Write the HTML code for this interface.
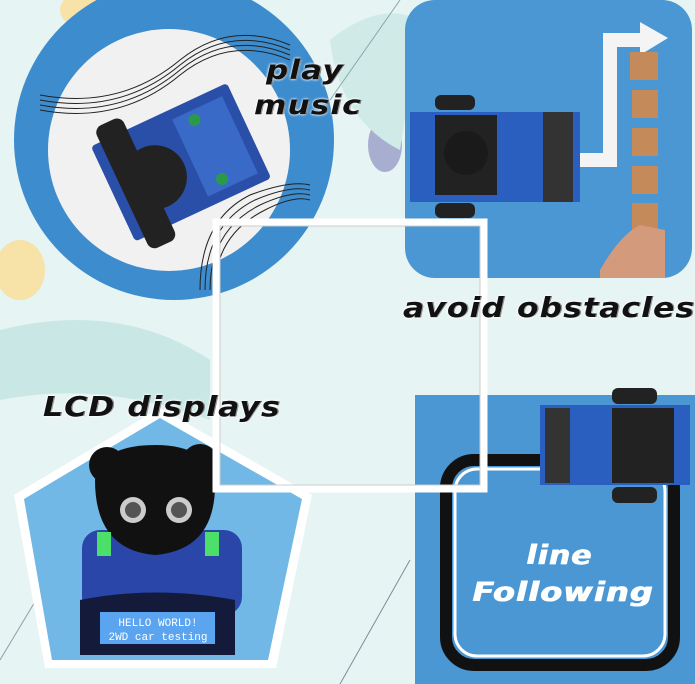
<!DOCTYPE html>
<html><head><style>
html,body{margin:0;padding:0}
body{width:695px;height:684px;overflow:hidden;position:relative;background:#e6f4f3;font-family:"DejaVu Sans","Liberation Sans",sans-serif}
.t{position:absolute;font-weight:bold;font-style:italic;color:#111;font-size:27px;letter-spacing:1px;text-shadow:0 0 2px #fff,0 0 3px #fff,1px 0 0 #111;white-space:nowrap;transform-origin:left top}
</style></head><body>
<svg width="695" height="684" style="position:absolute;left:0;top:0">
<ellipse cx="20" cy="270" rx="25" ry="30" fill="#f7e2a8"/>
<ellipse cx="90" cy="10" rx="30" ry="20" fill="#f7e2a8"/>
<ellipse cx="385" cy="145" rx="17" ry="27" fill="#a8aed0"/>
<path d="M0 330 Q120 300 210 360 L210 420 Q100 380 0 400Z" fill="#c9e8e5"/>
<path d="M330 40 Q380 0 420 20 L400 150 Q340 120 330 40Z" fill="#cfeae7"/>
<line x1="330" y1="100" x2="400" y2="0" stroke="#8aa" stroke-width="1"/>
<line x1="340" y1="684" x2="410" y2="560" stroke="#889" stroke-width="1"/>
<line x1="0" y1="660" x2="60" y2="560" stroke="#99a" stroke-width="1"/>
<circle cx="174" cy="140" r="160" fill="#3d8cce"/>
<circle cx="169" cy="150" r="121" fill="#f1f1f1"/>
<g fill="none" stroke="#222" stroke-width="1">
<path d="M40 95 Q120 110 180 60 Q230 20 290 45"/><path d="M40 100 Q120 115 180 65 Q230 25 290 50"/><path d="M40 105 Q120 120 180 70 Q230 30 290 55"/><path d="M40 110 Q120 125 180 75 Q230 35 290 60"/>
<path d="M200 290 Q200 220 250 195 Q290 180 310 185"/><path d="M205 290 Q205 225 255 200 Q290 185 310 190"/><path d="M210 290 Q210 230 260 205 Q292 190 310 195"/><path d="M215 290 Q215 235 265 210 Q294 195 310 200"/>
</g>
<g transform="rotate(-25 180 160)">
<rect x="105" y="110" width="150" height="105" rx="4" fill="#2a4fa8"/>
<rect x="115" y="95" width="30" height="135" rx="8" fill="#222"/>
<circle cx="150" cy="165" r="32" fill="#222"/>
<rect x="190" y="120" width="55" height="85" fill="#3a6ac8"/>
<circle cx="210" cy="130" r="6" fill="#2a9a4a"/><circle cx="210" cy="195" r="6" fill="#2a9a4a"/>
</g>
<rect x="405" y="0" width="287" height="278" rx="30" fill="#4a97d4"/>
<path d="M580 160 L610 160 L610 40 L645 40" fill="none" stroke="#f4f4f4" stroke-width="14"/>
<path d="M640 22 L668 38 L640 55Z" fill="#f4f4f4"/>
<rect x="435" y="95" width="40" height="15" rx="6" fill="#222"/><rect x="435" y="203" width="40" height="15" rx="6" fill="#222"/>
<rect x="410" y="112" width="170" height="90" fill="#2a5fbf"/>
<rect x="435" y="115" width="62" height="80" fill="#222"/>
<circle cx="466" cy="153" r="22" fill="#1a1a1a"/>
<rect x="543" y="112" width="30" height="90" fill="#333"/>
<g fill="#c48a5a"><rect x="630" y="52" width="28" height="28"/><rect x="632" y="90" width="26" height="28"/><rect x="632" y="128" width="26" height="28"/><rect x="632" y="166" width="26" height="28"/><rect x="632" y="203" width="26" height="28"/></g>
<path d="M600 270 Q620 235 640 225 L665 230 L665 278 L600 278Z" fill="#d49a7c"/>
<rect x="415" y="395" width="280" height="289" fill="#4a97d4"/>
<rect x="446" y="460" width="228" height="205" rx="28" fill="none" stroke="#111" stroke-width="12"/>
<rect x="455" y="469" width="210" height="187" rx="22" fill="none" stroke="#fff" stroke-width="3"/>
<rect x="540" y="405" width="150" height="80" fill="#2a5fbf"/>
<rect x="612" y="388" width="45" height="16" rx="6" fill="#222"/><rect x="612" y="487" width="45" height="16" rx="6" fill="#222"/>
<rect x="612" y="408" width="62" height="75" fill="#222"/>
<rect x="545" y="408" width="25" height="75" fill="#333"/>
<polygon points="160,408 312,495 276,668 45,668 14,495" fill="#fff"/>
<polygon points="160,418 302,499 268,660 52,660 24,499" fill="#72b8e6"/>
<rect x="82" y="530" width="160" height="85" rx="18" fill="#2a46a8"/>
<circle cx="107" cy="465" r="18" fill="#111"/><circle cx="200" cy="462" r="18" fill="#111"/>
<path d="M95 480 Q100 445 155 445 Q210 445 215 485 Q215 550 155 555 Q95 550 95 480Z" fill="#111"/>
<circle cx="133" cy="510" r="13" fill="#ccc"/><circle cx="133" cy="510" r="8" fill="#555"/>
<circle cx="179" cy="510" r="13" fill="#ccc"/><circle cx="179" cy="510" r="8" fill="#555"/>
<rect x="97" y="532" width="14" height="24" fill="#4ce06a"/><rect x="205" y="532" width="14" height="24" fill="#4ce06a"/>
<path d="M80 600 Q155 585 235 600 L235 655 L80 655Z" fill="#141a3a"/>
<rect x="100" y="612" width="115" height="32" fill="#5aa4f0"/>
<text x="158" y="626" font-family="Liberation Mono,monospace" font-size="11" fill="#fff" text-anchor="middle">HELLO WORLD!</text>
<text x="158" y="640" font-family="Liberation Mono,monospace" font-size="11" fill="#fff" text-anchor="middle">2WD car testing</text>
<rect x="216" y="222" width="268" height="267" fill="none" stroke="#fff" stroke-width="7"/>
<rect x="220" y="226" width="260" height="259" fill="none" stroke="#ccc" stroke-width="1"/>
</svg>
<div class="t" style="left:266px;top:55px;font-size:27px;transform:scaleX(1.15)">play</div>
<div class="t" style="left:254px;top:90px;font-size:27px;transform:scaleX(1.15)">music</div>
<div class="t" style="left:403px;top:291px;font-size:28px;transform:scaleX(1.12)">avoid obstacles</div>
<div class="t" style="left:43px;top:390px;font-size:28px;transform:scaleX(1.12)">LCD displays</div>
<div class="t" style="left:526px;top:540px;color:#fff;text-shadow:1px 0 0 #fff;font-size:27px;transform:scaleX(1.1)">line</div>
<div class="t" style="left:472px;top:577px;color:#fff;text-shadow:1px 0 0 #fff;font-size:27px;transform:scaleX(1.18)">Following</div>
</body></html>
